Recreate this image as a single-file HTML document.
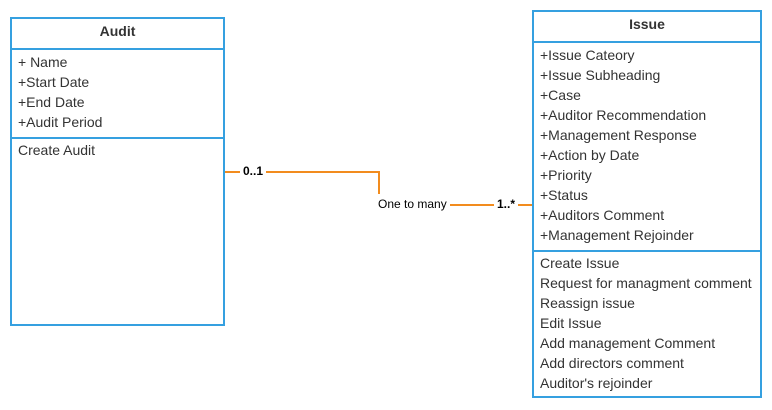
<!DOCTYPE html>
<html><head><style>
body{margin:0;width:772px;height:410px;background:#fff;position:relative;overflow:hidden;font-family:"Liberation Sans",sans-serif;color:#333;}
.box{position:absolute;border:2px solid #35a0e0;box-sizing:border-box;}
.hl{position:absolute;left:0;right:0;height:2px;background:#35a0e0;}
.t{position:absolute;font-size:14px;line-height:20px;white-space:nowrap;}
.h{position:absolute;left:0;right:0;text-align:center;font-weight:bold;font-size:14px;}
.o{position:absolute;background:#f28c1e;}
.lb{position:absolute;font-size:12px;font-weight:bold;color:#000;background:#fff;}
</style></head><body>
<div class="box" style="left:10px;top:17px;width:215px;height:309px;">
 <div class="h" style="top:4px;">Audit</div>
 <div class="hl" style="top:29px;"></div>
 <div class="t" style="left:6px;top:33px;">+ Name<br>+Start Date<br>+End Date<br>+Audit Period</div>
 <div class="hl" style="top:118px;"></div>
 <div class="t" style="left:6px;top:121px;">Create Audit</div>
</div>
<div class="box" style="left:532px;top:10px;width:230px;height:388px;">
 <div class="h" style="top:4px;">Issue</div>
 <div class="hl" style="top:29px;"></div>
 <div class="t" style="left:6px;top:33px;">+Issue Cateory<br>+Issue Subheading<br>+Case<br>+Auditor Recommendation<br>+Management Response<br>+Action by Date<br>+Priority<br>+Status<br>+Auditors Comment<br>+Management Rejoinder</div>
 <div class="hl" style="top:238px;"></div>
 <div class="t" style="left:6px;top:241px;">Create Issue<br>Request for managment comment<br>Reassign issue<br>Edit Issue<br>Add management Comment<br>Add directors comment<br>Auditor's rejoinder</div>
</div>
<div class="o" style="left:225px;top:171px;width:155px;height:2px;"></div>
<div class="o" style="left:378px;top:171px;width:2px;height:23px;"></div>
<div class="o" style="left:450px;top:204px;width:82px;height:2px;"></div>
<div class="lb" style="left:240px;top:164px;padding:0 3px;">0..1</div>
<div class="lb" style="left:494px;top:197px;padding:0 3px;">1..*</div>
<div style="position:absolute;left:378px;top:197px;font-size:12px;color:#000;">One to many</div>
</body></html>
